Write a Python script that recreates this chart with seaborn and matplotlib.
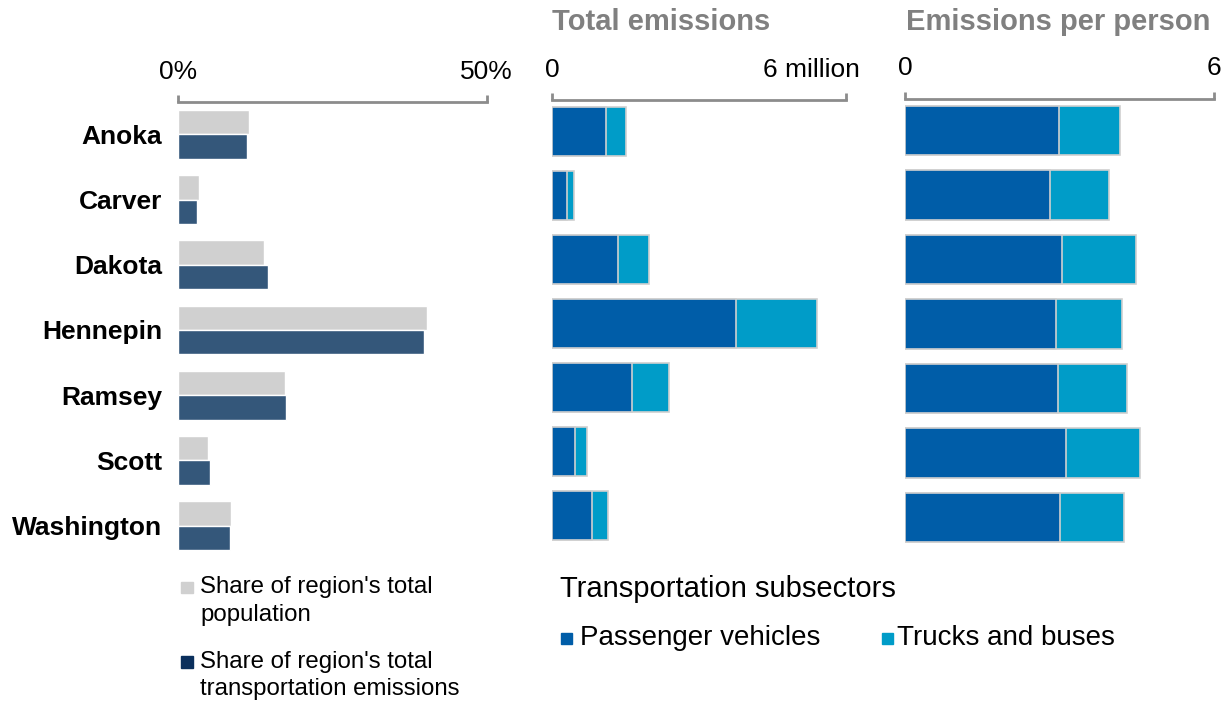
import matplotlib
matplotlib.use("Agg")
import matplotlib.pyplot as plt
import matplotlib.transforms as mtransforms
from matplotlib.patches import Rectangle
import pandas as pd
import seaborn as sns

# data
counties = ["Anoka", "Carver", "Dakota", "Hennepin", "Ramsey", "Scott", "Washington"]
pop_share = [11.5, 3.4, 13.9, 40.4, 17.3, 4.8, 8.5]        # % of region population
emis_share = [11.2, 3.1, 14.6, 39.8, 17.5, 5.1, 8.4]       # % of region transport emissions
total_passenger = [1.10, 0.30, 1.35, 3.76, 1.63, 0.48, 0.82]  # million
total_trucks = [0.42, 0.14, 0.63, 1.65, 0.75, 0.23, 0.33]
pp_passenger = [2.98, 2.80, 3.05, 2.92, 2.96, 3.12, 3.01]   # per person
pp_trucks = [1.18, 1.16, 1.42, 1.28, 1.34, 1.44, 1.24]

GREY = "#d0d0d0"
SHARE_BLUE = "#34577a"
LEGEND_NAVY = "#0a2f5c"
PASS_BLUE = "#005da8"
TRUCK_BLUE = "#009cc8"
AXIS_GREY = "#8c8c8c"
TITLE_GREY = "#808080"

sns.set_style("white")
plt.rcParams["font.family"] = ["Liberation Sans", "DejaVu Sans"]
plt.rcParams["text.color"] = "black"
plt.rcParams["xtick.labelcolor"] = "black"
plt.rcParams["ytick.labelcolor"] = "black"

W, H = 1225, 702
fig = plt.figure(figsize=(W / 100, H / 100), dpi=100)


def px_axes(left, right, top, bottom):
    return fig.add_axes([left / W, 1 - bottom / H, (right - left) / W, (bottom - top) / H])


def bracket_axis(ax, ticks, labels):
    for s in ["left", "right", "bottom"]:
        ax.spines[s].set_visible(False)
    ax.spines["top"].set_color(AXIS_GREY)
    ax.spines["top"].set_linewidth(2)
    ax.xaxis.tick_top()
    ax.set_xticks(ticks)
    ax.set_xticklabels(labels)
    ax.tick_params(axis="x", direction="out", length=5, width=2, color=AXIS_GREY,
                   pad=8, labelsize=19, labelcolor="black")
    ax.set_xlabel("")
    ax.set_ylabel("")


# panel 1: shares
ax1 = px_axes(178.3, 486.7, 101.9, 558.1)
df1 = pd.DataFrame({
    "county": counties * 2,
    "share": pop_share + emis_share,
    "measure": ["pop"] * len(counties) + ["emis"] * len(counties),
})
sns.barplot(data=df1, x="share", y="county", hue="measure", orient="h",
            palette={"pop": GREY, "emis": SHARE_BLUE}, saturation=1, width=0.75,
            edgecolor="white", linewidth=1, errorbar=None, legend=False, ax=ax1)
ax1.set_xlim(0, 50)
bracket_axis(ax1, [0, 50], ["0%", "50%"])
ax1.tick_params(axis="y", length=0, pad=11.5, labelsize=19, labelcolor="black")
for lab in ax1.get_yticklabels():
    lab.set_fontweight("bold")

# panel 2: total emissions (stacked)
ax2 = px_axes(552, 845.7, 99.75, 547)
total_sum = [p + t for p, t in zip(total_passenger, total_trucks)]
sns.barplot(x=total_sum, y=counties, color=TRUCK_BLUE, saturation=1, width=0.767,
            edgecolor=GREY, linewidth=1.2, ax=ax2)
sns.barplot(x=total_passenger, y=counties, color=PASS_BLUE, saturation=1, width=0.767,
            edgecolor=GREY, linewidth=1.2, ax=ax2)
ax2.set_xlim(0, 6)
bracket_axis(ax2, [0, 6], ["0", "6 million"])
ax2.set_yticks([])
lbl = ax2.get_xticklabels()[1]
lbl.set_ha("right")
lbl.set_transform(lbl.get_transform() + mtransforms.ScaledTranslation(0.14, 0, fig.dpi_scale_trans))

# panel 3: emissions per person (stacked)
ax3 = px_axes(905.3, 1214.3, 98.5, 549.5)
pp_sum = [p + t for p, t in zip(pp_passenger, pp_trucks)]
sns.barplot(x=pp_sum, y=counties, color=TRUCK_BLUE, saturation=1, width=0.766,
            edgecolor=GREY, linewidth=1.2, ax=ax3)
sns.barplot(x=pp_passenger, y=counties, color=PASS_BLUE, saturation=1, width=0.766,
            edgecolor=GREY, linewidth=1.2, ax=ax3)
ax3.set_xlim(0, 6)
bracket_axis(ax3, [0, 6], ["0", "6"])
ax3.set_yticks([])

# panel titles
fig.text(551.7 / W, 1 - 22 / H, "Total emissions", fontsize=21, fontweight="bold",
         color=TITLE_GREY, va="center", ha="left")
fig.text(906 / W, 1 - 22 / H, "Emissions per person", fontsize=21, fontweight="bold",
         color=TITLE_GREY, va="center", ha="left")


def square(x, y, size, color):
    fig.patches.append(Rectangle((x / W, 1 - (y + size) / H), size / W, size / H,
                                 color=color, transform=fig.transFigure, figure=fig))


def line(x, y, s, size):
    fig.text(x / W, 1 - y / H, s, fontsize=size, va="center", ha="left", color="black")


# left legend
square(181, 581.5, 11.5, GREY)
line(200, 587, "Share of region's total", 17.3)
line(200, 615, "population", 17.3)
square(181, 656, 11.5, LEGEND_NAVY)
line(200, 662, "Share of region's total", 17.3)
line(200, 689, "transportation emissions", 17.3)

# subsector legend
line(560, 589, "Transportation subsectors", 21)
square(561, 633, 10.5, PASS_BLUE)
line(580, 638, "Passenger vehicles", 20)
square(882, 633, 10.5, TRUCK_BLUE)
line(897, 638, "Trucks and buses", 20)

fig.savefig("out.png", dpi=100)
